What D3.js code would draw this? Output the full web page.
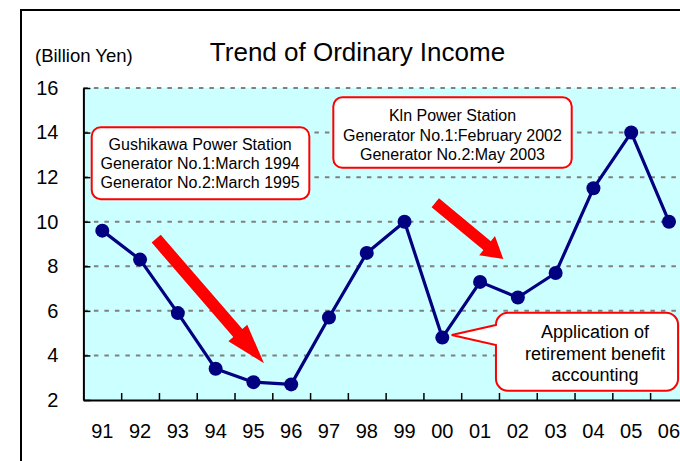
<!DOCTYPE html>
<html>
<head>
<meta charset="utf-8">
<script src="https://cdn.jsdelivr.net/npm/d3@7"></script>
<style>
  html, body { margin: 0; padding: 0; background: #fff; overflow: hidden; }
  svg { display: block; font-family: "Liberation Sans", Arial, sans-serif; }
</style>
</head>
<body>
<svg id="chart" width="680" height="461"></svg>
<script>
// ---- data ----
const years = ["91","92","93","94","95","96","97","98","99","00","01","02","03","04","05","06"];
const income = [9.6, 8.3, 5.9, 3.4, 2.8, 2.7, 5.7, 8.6, 10.0, 4.8, 7.3, 6.6, 7.7, 11.5, 14.0, 10.0];
const yTicks = [2, 4, 6, 8, 10, 12, 14, 16];
const titleText = "Trend of Ordinary Income";
const unitText = "(Billion Yen)";
const noteGushikawa = ["Gushikawa Power Station", "Generator No.1:March 1994", "Generator No.2:March 1995"];
const noteKin = ["Kln Power Station", "Generator No.1:February 2002", "Generator No.2:May 2003"];
const noteRetire = ["Application of", "retirement benefit", "accounting"];

// ---- layout ----
const svg = d3.select("#chart");
const plotLeft = 83.4, step = 37.78, plotTop = 88, plotBottom = 400;
const y = d3.scaleLinear().domain([2, 16]).range([plotBottom, plotTop]);
const xi = d3.scaleLinear().domain([0, years.length]).range([plotLeft, plotLeft + years.length * step]);
const xb = d3.scaleBand().domain(years).range(xi.range()).padding(0);
const xc = d => xb(d) + xb.bandwidth() / 2;

const RED = "#FF0000", NAVY = "#000080", BG = "#CCFFFF", GRID = "#808080";

// outer frame
svg.append("rect").attr("x", 21).attr("y", 10).attr("width", 720).attr("height", 520)
  .attr("fill", "none").attr("stroke", "#000").attr("stroke-width", 2);

// plot background
svg.append("rect")
  .attr("x", xi(0)).attr("y", y(16))
  .attr("width", xi(years.length) - xi(0)).attr("height", y(2) - y(16))
  .attr("fill", BG);

// gridlines
svg.append("g").selectAll("line").data(yTicks.filter(t => t > 2)).join("line")
  .attr("x1", xi(0)).attr("x2", xi(years.length))
  .attr("y1", d => y(d)).attr("y2", d => y(d))
  .attr("stroke", GRID).attr("stroke-width", 2).attr("stroke-dasharray", "4.5,6");

// y axis
const yAxis = d3.axisLeft(y).tickValues(yTicks).tickSize(-7).tickPadding(25).tickSizeOuter(0);
const gy = svg.append("g").attr("transform", `translate(${xi(0)},0)`).call(yAxis);
gy.select(".domain").attr("stroke", "#000").attr("stroke-width", 2);
gy.selectAll(".tick line").attr("stroke", "#000").attr("stroke-width", 1.5);
gy.selectAll(".tick text").attr("font-size", 20).attr("fill", "#000")
  .attr("font-family", "'Liberation Sans', Arial, sans-serif");

// x axis: ticks at category boundaries
const boundaries = d3.range(1, years.length);
const xTickAxis = d3.axisBottom(xi).tickValues(boundaries).tickSize(-7).tickFormat("").tickSizeOuter(0);
const gx = svg.append("g").attr("transform", `translate(0,${y(2)})`).call(xTickAxis);
gx.select(".domain").attr("stroke", "#000").attr("stroke-width", 2);
gx.selectAll(".tick line").attr("stroke", "#000").attr("stroke-width", 1.5);

// x labels
const xLabAxis = d3.axisBottom(xb).tickSize(0).tickPadding(24);
const gxl = svg.append("g").attr("transform", `translate(0,${y(2)})`).call(xLabAxis);
gxl.select(".domain").remove();
gxl.selectAll(".tick text").attr("font-size", 20).attr("fill", "#000")
  .attr("font-family", "'Liberation Sans', Arial, sans-serif");

// title & unit
svg.append("text").attr("x", 357.5).attr("y", 61).attr("text-anchor", "middle")
  .attr("font-size", 26).attr("fill", "#000").text(titleText);
svg.append("text").attr("x", 35).attr("y", 61.5)
  .attr("font-size", 18.5).attr("fill", "#000").text(unitText);

// ---- annotations (positions in data units: category index / value) ----
function arrow(t, p, s, h, L) {
  const T = [xi(t[0]), y(t[1])], P = [xi(p[0]), y(p[1])];
  const dx = P[0] - T[0], dy = P[1] - T[1], len = Math.hypot(dx, dy);
  const u = [dx / len, dy / len], n = [-u[1], u[0]];
  const B = [P[0] - u[0] * L, P[1] - u[1] * L];
  const pt = (a, k) => [a[0] + n[0] * k, a[1] + n[1] * k];
  const pts = [pt(T, s/2), pt(B, s/2), pt(B, h/2), P, pt(B, -h/2), pt(B, -s/2), pt(T, -s/2)];
  svg.append("polygon").attr("points", pts.map(q => q.join(",")).join(" ")).attr("fill", RED);
}
arrow([1.927, 9.238], [4.780, 3.647], 12, 25, 40);
arrow([9.314, 10.849], [11.114, 8.327], 11.6, 24.7, 21);

function noteBox(i0, i1, v0, v1, lines, fs, cx, lineYs) {
  svg.append("rect").attr("x", xi(i0)).attr("y", y(v0))
    .attr("width", xi(i1) - xi(i0)).attr("height", y(v1) - y(v0))
    .attr("rx", 9).attr("ry", 9)
    .attr("fill", "#fff").attr("stroke", RED).attr("stroke-width", 2);
  svg.append("g").selectAll("text").data(lines).join("text")
    .attr("x", xi(cx)).attr("y", (d, k) => y(lineYs[k])).attr("dy", "0.35em")
    .attr("text-anchor", "middle").attr("font-size", fs).attr("fill", "#000")
    .text(d => d);
}
noteBox(0.22, 5.98, 14.24, 11.01, noteGushikawa, 16, 3.09, [13.47, 12.62, 11.75]);
noteBox(6.615, 12.925, 15.58, 12.42, noteKin, 16, 9.77, [14.79, 13.89, 13.04]);

// callout with pointer
(function () {
  const x0 = xi(10.92), x1 = xi(15.74), y0 = y(5.917), y1 = y(2.417), r = 12;
  const tipX = xi(9.748), tipY = y(4.917), pTop = y(5.365), pBot = y(4.468);
  const path = d3.path();
  path.moveTo(x0, pTop);
  path.lineTo(tipX, tipY);
  path.lineTo(x0, pBot);
  path.lineTo(x0, y1 - r);
  path.arcTo(x0, y1, x0 + r, y1, r);
  path.lineTo(x1 - r, y1);
  path.arcTo(x1, y1, x1, y1 - r, r);
  path.lineTo(x1, y0 + r);
  path.arcTo(x1, y0, x1 - r, y0, r);
  path.lineTo(x0 + r, y0);
  path.arcTo(x0, y0, x0, y0 + r, r);
  path.closePath();
  svg.append("path").attr("d", path.toString())
    .attr("fill", "#fff").attr("stroke", RED).attr("stroke-width", 2);
  const lineVs = [5.065, 4.096, 3.122];
  svg.append("g").selectAll("text").data(noteRetire).join("text")
    .attr("x", xi(13.54)).attr("y", (d, k) => y(lineVs[k])).attr("dy", "0.35em")
    .attr("text-anchor", "middle").attr("font-size", 18).attr("fill", "#000")
    .text(d => d);
})();

// ---- series ----
const line = d3.line().x((d, i) => xc(years[i])).y(d => y(d));
svg.append("path").datum(income).attr("d", line)
  .attr("fill", "none").attr("stroke", NAVY).attr("stroke-width", 3.2).attr("stroke-linejoin", "round");
svg.append("g").selectAll("circle").data(income).join("circle")
  .attr("cx", (d, i) => xc(years[i])).attr("cy", d => y(d)).attr("r", 7)
  .attr("fill", NAVY);
</script>
</body>
</html>
